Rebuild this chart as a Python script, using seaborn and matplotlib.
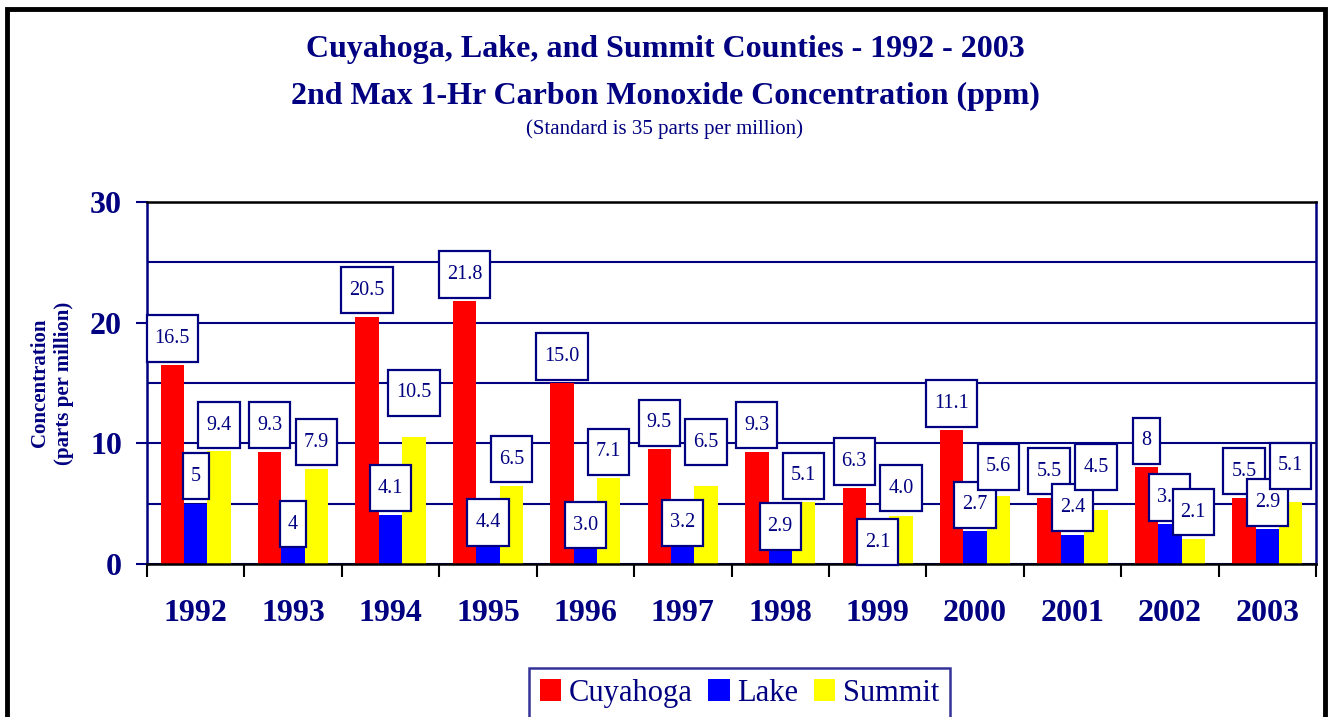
import numpy as np
import pandas as pd
import seaborn as sns
import matplotlib.pyplot as plt
from matplotlib.patches import Rectangle
from matplotlib.path import Path

# Data
years = ['1992', '1993', '1994', '1995', '1996', '1997', '1998', '1999', '2000', '2001', '2002', '2003']
cuyahoga = [16.5, 9.3, 20.5, 21.8, 15.0, 9.5, 9.3, 6.3, 11.1, 5.5, 8, 5.5]
lake = [5, 4, 4.1, 4.4, 3.0, 3.2, 2.9, 2.1, 2.7, 2.4, 3.3, 2.9]
summit = [9.4, 7.9, 10.5, 6.5, 7.1, 6.5, 5.1, 4.0, 5.6, 4.5, 2.1, 5.1]
cuyahoga_txt = ['16.5', '9.3', '20.5', '21.8', '15.0', '9.5', '9.3', '6.3', '11.1', '5.5', '8', '5.5']
lake_txt = ['5', '4', '4.1', '4.4', '3.0', '3.2', '2.9', '2.1', '2.7', '2.4', '3.3', '2.9']
summit_txt = ['9.4', '7.9', '10.5', '6.5', '7.1', '6.5', '5.1', '4.0', '5.6', '4.5', '2.1', '5.1']
counties = ['Cuyahoga', 'Lake', 'Summit']

# label box gaps above the bar top (pixels), nudged like in the original
cuy_gap = [5] * 12
lake_gap = [6, -30, 5, -33, -19, -19, -19, -25, 5, 6, 5, 5]
sum_gap = [4, 5, 23, 5, 5, 22, 5, 6, 8, 21, 5, 15]

navy = '#000080'
plt.rcParams['font.family'] = ['Liberation Serif', 'DejaVu Serif']


def tall_box(x0, y0, width, height, mutation_size):
    # square box, a bit taller than the default one
    px = 0.4 * mutation_size
    py = 0.68 * mutation_size
    x0, y0 = x0 - px, y0 - py
    w, h = width + 2 * px, height + 2 * py
    return Path([(x0, y0), (x0 + w, y0), (x0 + w, y0 + h), (x0, y0 + h), (x0, y0)], closed=True)


df = pd.DataFrame({
    'year': years * 3,
    'value': cuyahoga + lake + summit,
    'county': np.repeat(counties, len(years)),
})

fig = plt.figure(figsize=(13.3, 7.17), dpi=100)
ax = fig.add_axes([147 / 1330, 1 - 564 / 717, (1316 - 147) / 1330, (564 - 202) / 717])

sns.barplot(data=df, x='year', y='value', hue='county', palette=['#FF0000', '#0000FF', '#FFFF00'],
            width=0.72, saturation=1, linewidth=0, ax=ax, zorder=2)

ax.set_ylim(0, 30)
ax.set_xlim(-0.5, 11.5)
ax.set_yticks([0, 10, 20, 30])
ax.set_yticks([5, 15, 25], minor=True)
ax.yaxis.grid(True, which='both', color=navy, linewidth=1.5)
ax.set_axisbelow(True)
ax.set_xlabel('')
ax.set_ylabel('')

ax.set_xticks(np.arange(-0.5, 12, 1), minor=True)
ax.tick_params(axis='x', which='major', length=0, pad=25, labelsize=23, labelcolor=navy)
ax.tick_params(axis='x', which='minor', length=9, width=1.5, color='black', direction='out')
ax.tick_params(axis='y', which='major', length=8, width=1.5, color=navy, pad=10, labelsize=23, labelcolor=navy)
ax.tick_params(axis='y', which='minor', length=0)
for t in ax.get_xticklabels() + ax.get_yticklabels():
    t.set_fontweight('bold')

ax.spines['left'].set_color(navy)
ax.spines['right'].set_color(navy)
ax.spines['top'].set_color('black')
ax.spines['bottom'].set_color('black')
for s in ax.spines.values():
    s.set_linewidth(1.8)

# value labels in boxes
for cont, txts, gaps in zip(ax.containers, [cuyahoga_txt, lake_txt, summit_txt], [cuy_gap, lake_gap, sum_gap]):
    for bar, txt, gap in zip(cont, txts, gaps):
        x = bar.get_x() + bar.get_width() / 2
        y = bar.get_height()
        ax.annotate(txt, (x, y), xytext=(0, (gap + 21.5) * 0.72), textcoords='offset points',
                    ha='center', va='center', fontsize=14.5, color=navy, zorder=5,
                    bbox=dict(boxstyle=tall_box, fc='white', ec=navy, lw=1.6))

# titles
fig.text(0.5, 1 - 50 / 717, 'Cuyahoga, Lake, and Summit Counties - 1992 - 2003',
         ha='center', va='center', fontsize=23, fontweight='bold', color=navy)
fig.text(0.5, 1 - 96 / 717, '2nd Max 1-Hr Carbon Monoxide Concentration (ppm)',
         ha='center', va='center', fontsize=23, fontweight='bold', color=navy)
fig.text(0.5, 1 - 129 / 717, '(Standard is 35 parts per million)',
         ha='center', va='center', fontsize=15, color=navy)
fig.text(52 / 1330, 1 - 383 / 717, 'Concentration\n(parts per million)', rotation=90,
         ha='center', va='center', multialignment='center', fontsize=15, fontweight='bold', color=navy)

# legend, cut by the bottom of the picture as in the original
leg = ax.legend(loc='upper center', bbox_to_anchor=(0.5 * (523 + 956) / 1330, 1 - 668 / 717),
                bbox_transform=fig.transFigure, ncol=3, fontsize=22, frameon=True, fancybox=False,
                handlelength=0.7, handleheight=0.7, handletextpad=0.26, columnspacing=0.5,
                borderpad=0.35, borderaxespad=0, labelcolor=navy)
leg.get_frame().set_edgecolor(navy)
leg.get_frame().set_linewidth(1.8)

# outer frame
fig.patches.append(Rectangle((7 / 1330, -0.05), (1325 - 7) / 1330, 1.05 - 9 / 717,
                             transform=fig.transFigure, fill=False, ec='black', lw=3.5))

fig.savefig('out.png', dpi=100)
